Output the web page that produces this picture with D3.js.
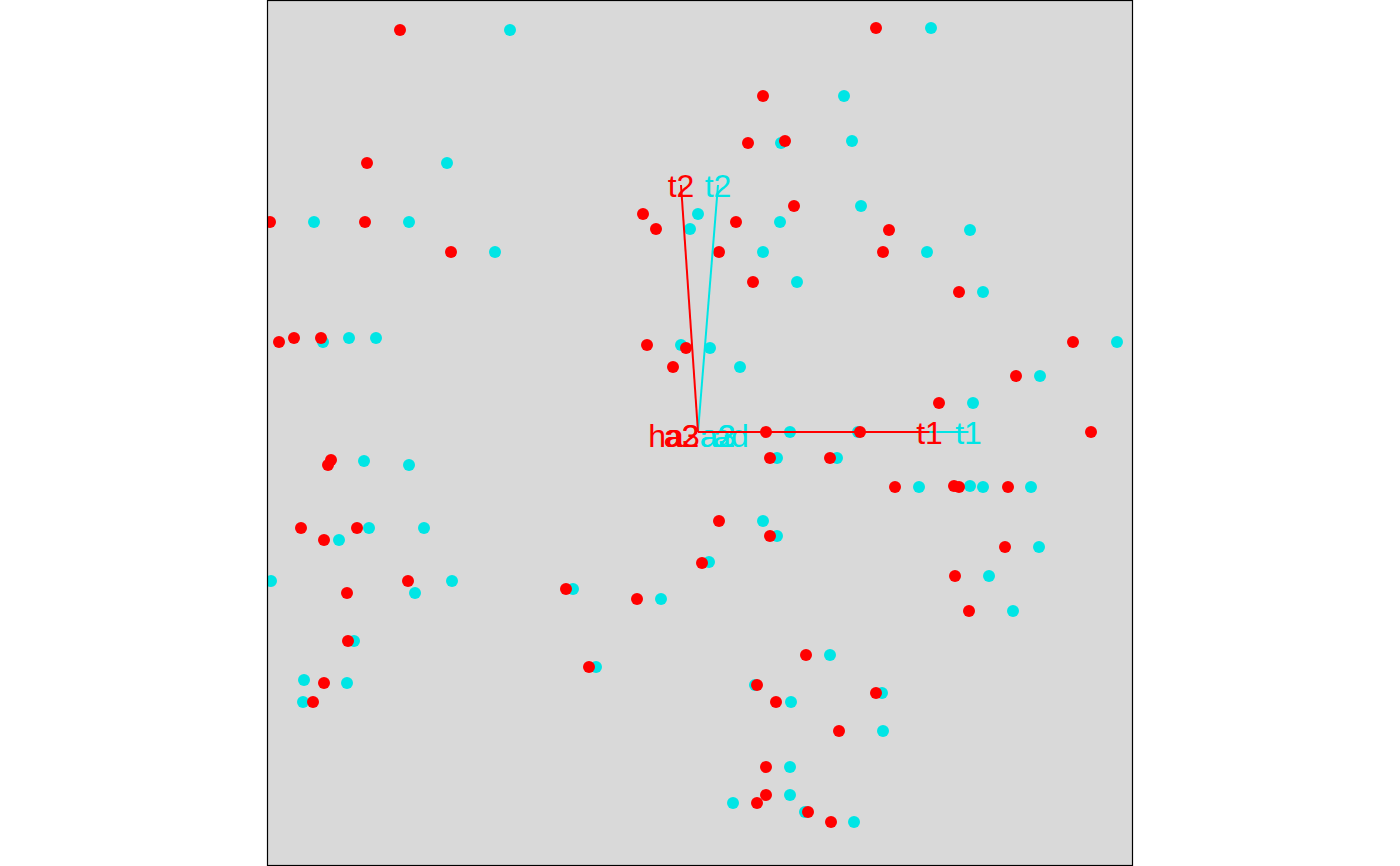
<!DOCTYPE html>
<html>
<head>
<meta charset="utf-8">
<script src="https://cdn.jsdelivr.net/npm/d3@7"></script>
<style>
  html, body { margin: 0; padding: 0; background: #ffffff; }
  svg { display: block; }
</style>
</head>
<body>
<svg id="chart" width="1400" height="866"></svg>
<script>
// ---- data ----
const redX = [-2.98,-3.31,-4.28,-3.33,-2.47,-4.19,-4.04,-3.77,-0.55,-0.42,-0.51,-0.12,-0.25,
  1.78,0.65,0.50,0.87,0.96,0.38,0.21,1.91,1.85,0.55,2.61,3.75,3.18,2.41,3.93,0.68,1.62,
  -3.67,-3.70,-3.97,-3.74,-3.41,-2.90,-3.51,-3.50,-3.74,-3.85,-1.32,-0.61,-1.09,0.04,
  0.72,1.32,1.97,2.56,2.61,3.10,0.21,0.72,3.07,2.57,2.71,1.08,0.59,0.78,1.78,1.41,0.68,0.68,0.59,1.10,1.33];
const redY = [4.02,2.69,2.10,2.10,1.80,0.90,0.94,0.94,2.18,2.03,0.87,0.84,0.65,
  4.04,3.36,2.89,2.91,2.26,2.10,1.80,2.02,1.80,1.50,1.40,0.90,0.56,0.29,0.00,0.00,0.00,
  -0.28,-0.33,-0.96,-1.08,-0.96,-1.49,-1.61,-2.09,-2.51,-2.70,-1.57,-1.67,-2.35,-1.31,
  -0.26,-0.26,-0.55,-0.54,-0.55,-0.55,-0.89,-1.04,-1.15,-1.44,-1.79,-2.23,-2.53,-2.70,-2.61,-2.99,-3.35,-3.63,-3.71,-3.80,-3.90];
const cyanX = [-1.88,-2.51,-3.84,-2.89,-2.03,-3.75,-3.49,-3.22,0.00,-0.08,-0.17,
  2.33,1.46,0.83,1.54,1.63,0.82,0.65,2.72,2.29,0.99,2.85,4.19,3.42,2.75,0.12,0.42,0.92,1.60,
  -3.34,-2.89,-3.29,-2.74,-3.59,-4.27,-2.83,-2.46,-3.44,-3.94,-3.51,-3.95,-1.25,-0.37,-1.02,
  0.79,1.39,2.21,2.72,2.85,3.33,0.65,0.79,0.11,3.41,2.91,3.15,1.32,0.57,0.93,1.84,1.85,0.92,0.92,0.35,1.07,1.56];
const cyanY = [4.02,2.69,2.10,2.10,1.80,0.90,0.94,0.94,2.18,2.03,0.87,
  4.04,3.36,2.89,2.91,2.26,2.10,1.80,2.02,1.80,1.50,1.40,0.90,0.56,0.29,0.84,0.65,0.00,0.00,
  -0.29,-0.33,-0.96,-0.96,-1.08,-1.49,-1.61,-1.49,-2.09,-2.48,-2.51,-2.70,-1.57,-1.67,-2.35,
  -0.26,-0.26,-0.55,-0.54,-0.55,-0.55,-0.89,-1.04,-1.30,-1.15,-1.44,-1.79,-2.23,-2.53,-2.70,-2.61,-2.99,-3.35,-3.63,-3.71,-3.80,-3.90];

// variable arrows (label, tip x, tip y)
const redArrowNames = ["t1", "t2"];
const redArrowX = [2.315, -0.17];
const redArrowY = [0.00, 2.47];
const cyanArrowNames = ["t1", "t2"];
const cyanArrowX = [2.705, 0.20];
const cyanArrowY = [0.00, 2.47];

// labels of near-zero variables
const redLabelNames = ["ha", "a2", "a3"];
const redLabelX = [-0.32, -0.165, -0.16];
const redLabelY = [-0.03, -0.03, -0.03];
const cyanLabelNames = ["a2", "a3", "ad"];
const cyanLabelX = [0.195, 0.20, 0.33];
const cyanLabelY = [-0.03, -0.03, -0.03];

// ---- drawing ----
const svg = d3.select("#chart");
const x = d3.scaleLinear().domain([-4.31, 4.35]).range([267, 1133]);
const y = d3.scaleLinear().domain([-4.34, 4.32]).range([866, 0]);

const RED = "#ff0000";
const CYAN = "#00e5e5";
const FONT = "'Liberation Sans', Arial, Helvetica, sans-serif";

svg.append("defs").append("clipPath").attr("id", "clip")
  .append("rect").attr("x", 267).attr("y", 0).attr("width", 866).attr("height", 866);

svg.append("rect").attr("x", 267).attr("y", 0).attr("width", 866).attr("height", 866)
  .attr("fill", "#d9d9d9");

const g = svg.append("g").attr("clip-path", "url(#clip)");

function drawPoints(xs, ys, color) {
  g.append("g").selectAll("circle").data(xs.map((v, i) => [v, ys[i]])).join("circle")
    .attr("cx", d => x(d[0])).attr("cy", d => y(d[1])).attr("r", 6).attr("fill", color);
}
function drawArrows(aNames, aX, aY, lNames, lX, lY, color) {
  const arr = aNames.map((n, i) => ({n, x: aX[i], y: aY[i]}));
  g.append("g").selectAll("line").data(arr).join("line")
    .attr("x1", x(0)).attr("y1", y(0))
    .attr("x2", d => x(d.x)).attr("y2", d => y(d.y))
    .attr("stroke", color).attr("stroke-width", 2);
  const labs = arr.concat(lNames.map((n, i) => ({n, x: lX[i], y: lY[i]})));
  g.append("g").selectAll("text").data(labs).join("text")
    .attr("x", d => x(d.x)).attr("y", d => y(d.y) + 12)
    .attr("text-anchor", "middle")
    .attr("font-family", FONT).attr("font-size", 32)
    .attr("fill", color).text(d => d.n);
}

drawPoints(cyanX, cyanY, CYAN);
drawPoints(redX, redY, RED);
drawArrows(cyanArrowNames, cyanArrowX, cyanArrowY, cyanLabelNames, cyanLabelX, cyanLabelY, CYAN);
drawArrows(redArrowNames, redArrowX, redArrowY, redLabelNames, redLabelX, redLabelY, RED);

svg.append("rect").attr("x", 267.5).attr("y", 0.5).attr("width", 865).attr("height", 865)
  .attr("fill", "none").attr("stroke", "#000").attr("stroke-width", 1.2);
</script>
</body>
</html>
